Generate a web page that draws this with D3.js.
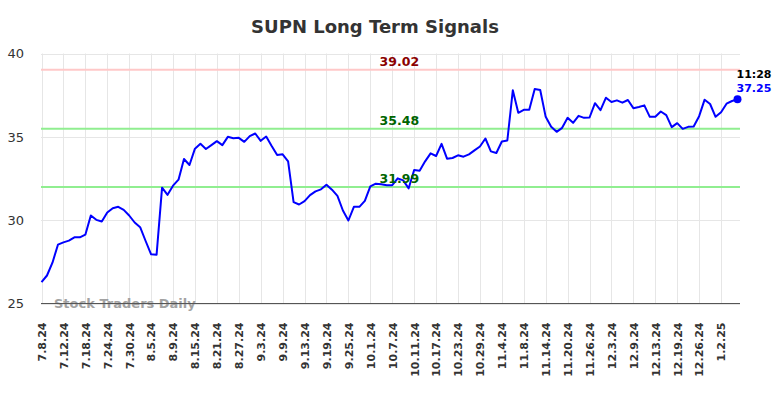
<!DOCTYPE html>
<html><head><meta charset="utf-8">
<script src="https://cdn.jsdelivr.net/npm/d3@7"></script>
<style>body{margin:0;background:#fff;font-family:"DejaVu Sans",sans-serif}</style>
</head><body><svg id="c" width="784" height="398"></svg>
<script>
const title = "SUPN Long Term Signals";
const prices = [26.28,26.68,27.45,28.53,28.67,28.77,28.97,28.97,29.13,30.28,30.02,29.92,30.46,30.72,30.80,30.62,30.28,29.86,29.58,28.75,27.95,27.93,31.95,31.52,32.07,32.43,33.67,33.31,34.29,34.58,34.27,34.50,34.74,34.50,35.00,34.92,34.94,34.70,35.04,35.20,34.76,35.02,34.45,33.91,33.95,33.53,31.08,30.94,31.14,31.50,31.73,31.85,32.13,31.83,31.46,30.58,29.98,30.80,30.80,31.16,32.03,32.19,32.15,32.09,32.10,32.51,32.39,31.91,33.01,32.97,33.53,34.01,33.85,34.58,33.69,33.73,33.89,33.81,33.95,34.19,34.42,34.90,34.13,34.03,34.72,34.78,37.79,36.44,36.62,36.62,37.87,37.81,36.20,35.60,35.30,35.54,36.14,35.84,36.26,36.14,36.16,37.02,36.60,37.35,37.09,37.19,37.05,37.21,36.72,36.79,36.89,36.20,36.20,36.52,36.30,35.58,35.82,35.48,35.60,35.62,36.24,37.23,36.97,36.20,36.48,36.99,37.15,37.25];
const tickLabels = ["7.8.24","7.12.24","7.18.24","7.24.24","7.30.24","8.5.24","8.9.24","8.15.24","8.21.24","8.27.24","9.3.24","9.9.24","9.13.24","9.19.24","9.25.24","10.1.24","10.7.24","10.11.24","10.17.24","10.23.24","10.29.24","11.4.24","11.8.24","11.14.24","11.20.24","11.26.24","12.3.24","12.9.24","12.13.24","12.19.24","12.26.24","1.2.25"];
const tickStep = 4;
const yTicks = [25,30,35,40];
const levelValues = [39.02,35.48,31.99];
const levelLabels = ["39.02","35.48","31.99"];
const lastTime = "11:28";
const lastLabel = "37.25";

const svg = d3.select("#c");
const L = 41, R = 740, T = 53.5, B = 303.5;
const x = d3.scaleLinear().domain([0, prices.length - 1]).range([41.5, 737.5]);
const y = d3.scaleLinear().domain([25, 40]).range([B, T]);

svg.append("text").attr("x", 375).attr("y", 33).attr("text-anchor", "middle")
  .attr("font-size", 18).attr("font-weight", "bold").attr("fill", "#333").text(title);

const tickIdx = tickLabels.map((d, i) => i * tickStep);
// vertical grid
svg.append("g").selectAll("line").data(tickIdx).join("line")
  .attr("x1", d => Math.round(x(d)) + 0.5).attr("x2", d => Math.round(x(d)) + 0.5)
  .attr("y1", T).attr("y2", B).attr("stroke", "#e6e6e6").attr("stroke-width", 1);
// horizontal grid
svg.append("g").selectAll("line").data(yTicks).join("line")
  .attr("x1", L).attr("x2", R).attr("y1", d => Math.round(y(d)) + 0.5).attr("y2", d => Math.round(y(d)) + 0.5)
  .attr("stroke", "#e6e6e6").attr("stroke-width", 1);

// y labels
const yAxis = d3.axisLeft(y).tickValues(yTicks).tickSize(0).tickPadding(0);
const ga = svg.append("g").attr("transform", `translate(${L - 17},0)`).call(yAxis);
ga.select(".domain").remove();
ga.selectAll("text").attr("font-size", 13).attr("font-family", "DejaVu Sans").attr("fill", "#333");

// x labels
const xAxis = d3.axisBottom(x).tickValues(tickIdx).tickFormat((d, i) => tickLabels[i]).tickSize(0);
const gx = svg.append("g").attr("transform", `translate(0,${B})`).call(xAxis);
gx.select(".domain").remove();
gx.selectAll("text").attr("font-size", 11).attr("font-weight", "bold").attr("font-family", "DejaVu Sans")
  .attr("fill", "#333").attr("text-anchor", "end").attr("transform", "rotate(-90)")
  .attr("x", -19).attr("y", 0).attr("dy", "0.35em");

// level lines
const lvlColors = ["#ffc8c8", "#90ee90", "#90ee90"];
const lvlText = ["#8b0000", "#006400", "#006400"];
svg.append("g").selectAll("line").data(levelValues).join("line")
  .attr("x1", L).attr("x2", R).attr("y1", d => y(d)).attr("y2", d => y(d))
  .attr("stroke", (d, i) => lvlColors[i]).attr("stroke-width", 2);

// watermark
svg.append("text").attr("x", 54).attr("y", 308).attr("font-size", 13).attr("font-weight", "bold")
  .attr("fill", "#999").attr("opacity", 0.9).text("Stock Traders Daily");

// axis line
svg.append("line").attr("x1", L).attr("x2", R).attr("y1", B).attr("y2", B).attr("stroke", "#555").attr("stroke-width", 1);

// price line
svg.append("path").datum(prices)
  .attr("d", d3.line().x((d, i) => x(i)).y(d => y(d)))
  .attr("fill", "none").attr("stroke", "#0000ff").attr("stroke-width", 2).attr("stroke-linejoin", "round");

svg.append("g").selectAll("text").data(levelValues).join("text")
  .attr("x", x(65.3)).attr("y", d => y(d) - 4).attr("text-anchor", "middle")
  .attr("font-size", 12.5).attr("font-weight", "bold").attr("fill", (d, i) => lvlText[i])
  .text((d, i) => levelLabels[i]);

const li = prices.length - 1;
svg.append("circle").attr("cx", x(li)).attr("cy", y(prices[li])).attr("r", 4).attr("fill", "#0000ff");
svg.append("text").attr("x", x(li)).attr("y", y(prices[li]) - 21).attr("text-anchor", "start")
  .attr("font-size", 11).attr("font-weight", "bold").attr("fill", "#000").attr("dx", -1).text(lastTime);
svg.append("text").attr("x", x(li)).attr("y", y(prices[li]) - 7).attr("text-anchor", "start")
  .attr("font-size", 11).attr("font-weight", "bold").attr("fill", "#0000ff").attr("dx", -1).text(lastLabel);
</script></body></html>
